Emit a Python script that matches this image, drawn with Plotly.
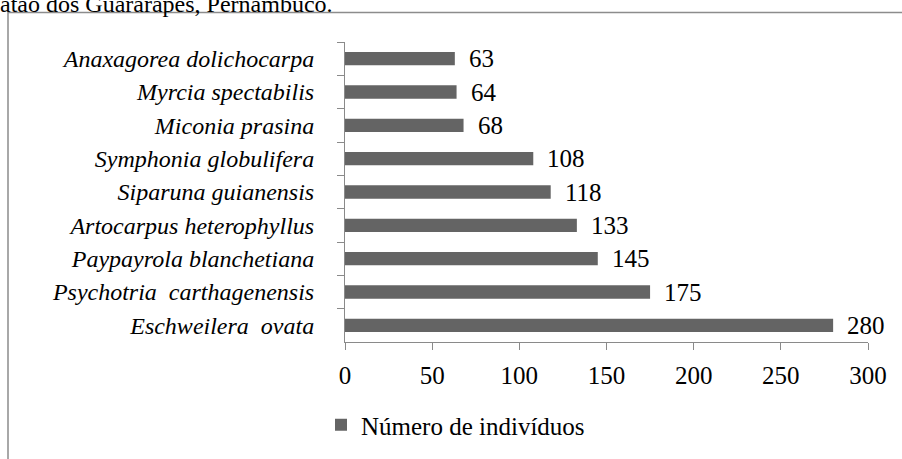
import plotly.graph_objects as go

species = [
    "Anaxagorea dolichocarpa",
    "Myrcia spectabilis",
    "Miconia prasina",
    "Symphonia globulifera",
    "Siparuna guianensis",
    "Artocarpus heterophyllus",
    "Paypayrola blanchetiana",
    "Psychotria\u00a0 carthagenensis",
    "Eschweilera\u00a0 ovata",
]
counts = [63, 64, 68, 108, 118, 133, 145, 175, 280]
x_ticks = [0, 50, 100, 150, 200, 250, 300]
series_name = "Número de indivíduos"
caption = "atão dos Guararapes, Pernambuco."

FONT = "Liberation Serif"
FS_NUM = 25
FS_LAB = 24
BAR = "#646464"
AXIS = "#8a8a8a"

W, H = 902, 459
L, R, T, B = 345, 34, 42, 117
pw, ph = W - L - R, H - T - B


def px_x(p):
    return (p - L) / pw


def px_y(p):
    return (H - B - p) / ph


fig = go.Figure()
fig.add_trace(go.Bar(
    x=counts, y=species, orientation="h",
    marker=dict(color=BAR, line=dict(width=0)),
    name=series_name, showlegend=True,
))

annotations = []
for c, s in zip(counts, species):
    annotations.append(dict(
        x=c, y=s, xref="x", yref="y", text=str(c), showarrow=False,
        xanchor="left", xshift=12, font=dict(family=FONT, size=FS_NUM, color="#000"),
    ))
annotations.append(dict(
    x=px_x(-2), y=px_y(19), xref="paper", yref="paper", text=caption,
    showarrow=False, xanchor="left", yanchor="bottom",
    font=dict(family=FONT, size=FS_LAB, color="#000"),
))

fig.update_layout(
    width=W, height=H,
    margin=dict(l=L, r=R, t=T, b=B, pad=0, autoexpand=False),
    paper_bgcolor="white", plot_bgcolor="white",
    bargap=0.6,
    font=dict(family=FONT, size=FS_NUM, color="#000"),
    annotations=annotations,
    shapes=[dict(
        type="rect", xref="paper", yref="paper",
        x0=px_x(8), x1=px_x(915), y0=px_y(475), y1=px_y(12.5),
        line=dict(color="#8c8c8c", width=1.5), fillcolor="rgba(0,0,0,0)",
        layer="below",
    )],
    legend=dict(
        orientation="h", x=px_x(321), y=px_y(425), xanchor="left", yanchor="middle",
        font=dict(family=FONT, size=FS_NUM, color="#000"),
        bgcolor="rgba(0,0,0,0)",
    ),
)
fig.update_xaxes(
    range=[0, 300], tickvals=x_ticks, ticktext=[str(v) for v in x_ticks],
    showgrid=False, zeroline=False, showline=True, linecolor=AXIS, linewidth=1,
    ticks="outside", ticklen=7, tickcolor=AXIS, tickwidth=1,
    ticklabelstandoff=4, automargin=False,
    tickfont=dict(family=FONT, size=FS_NUM, color="#000"),
)
fig.update_yaxes(
    autorange="reversed", showgrid=False, zeroline=False,
    showline=True, linecolor=AXIS, linewidth=1,
    ticks="outside", ticklen=7, tickcolor=AXIS, tickwidth=1,
    tickson="boundaries", ticklabelstandoff=25, automargin=False,
    tickfont=dict(family=FONT, size=FS_LAB, color="#000", style="italic"),
)

fig.write_html(
    "out.html",
    config={"displayModeBar": False},
    post_script="document.body.style.margin='0px';document.body.style.overflow='hidden';",
)
